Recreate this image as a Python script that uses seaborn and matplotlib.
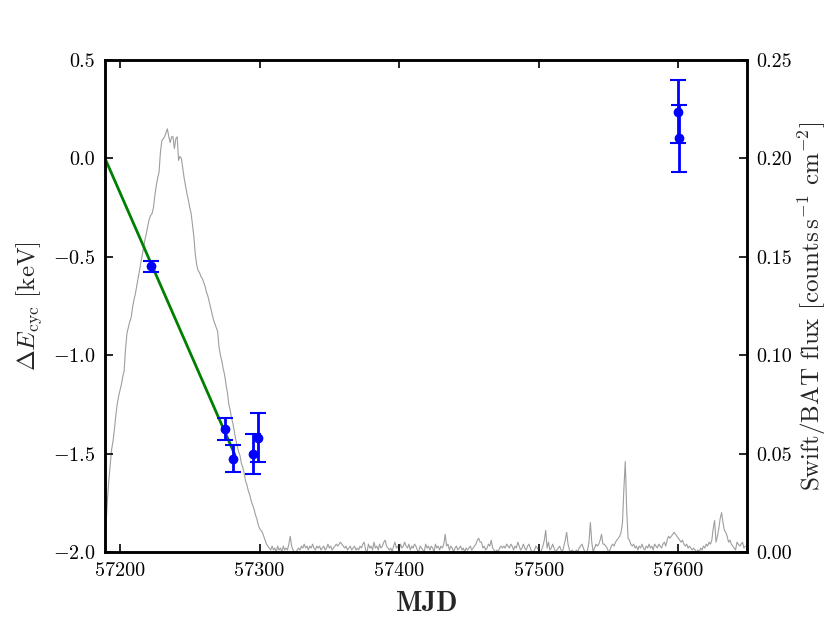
import matplotlib
matplotlib.use("Agg")
import matplotlib.pyplot as plt
import seaborn as sns
import numpy as np

# cyclotron line energy shifts (keV) vs MJD
mjd_cyc = [57222.6, 57275.4, 57281.3, 57295.4, 57299.2, 57599.9, 57600.6]
dE_cyc = [-0.547, -1.375, -1.526, -1.502, -1.419, 0.237, 0.102]
dE_err = [0.028, 0.055, 0.070, 0.104, 0.125, 0.159, 0.171]

# linear decay fit
fit_mjd = [57189.3, 57282.4]
fit_dE = [0.0, -1.507]

# Swift/BAT daily light curve, in 1e-3 counts s^-1 cm^-2, starting MJD 57189
bat_start = 57189
bat_flux = [
    1, 14, 26, 36, 44, 52, 56, 62, 69, 75, 79, 82, 85, 89, 92, 103, 111, 114, 117, 119,
    124, 128, 131, 135, 139, 143, 147, 151, 155, 159, 162, 166, 169, 171, 172, 175, 181, 186, 190, 193,
    203, 209, 210, 211, 213, 215, 211, 208, 211, 211, 205, 210, 211, 199, 201, 200, 195, 190, 186, 182,
    179, 175, 172, 166, 160, 151, 146, 143, 142, 140, 139, 137, 135, 132, 130, 127, 124, 121, 118, 116,
    114, 112, 104, 100, 97, 93, 90, 85, 81, 75, 72, 68, 65, 61, 57, 54, 51, 49, 45, 43,
    40, 36, 34, 31, 29, 26, 24, 22, 19, 17, 14, 12, 11, 10, 8, 6, 4, 3,
    2, 1, 3, 1, 2, 0, 3, 1, 2, 0, 3, 1, 2, 1, 4, 8, 3, 1, 0, 0, 1, 2, 1,
    3, 2, 4, 2, 3, 1, 3, 2, 4, 2, 1, 3, 2, 3, 1, 2, 3, 1, 2, 4, 2, 3, 1, 2, 3, 4, 3, 4, 5, 4, 3, 2, 3, 1, 2,
    3, 1, 2, 3, 1, 2, 1, 3, 2, 4, 5, 1, 0, 4, 2, 3, 1, 5, 2, 3, 1, 4, 2, 3, 5, 6, 3, 2, 1, 2, 0, 3, 5, 2, 3, 1, 4, 2, 3, 5,
    3, 2, 4, 1, 3, 2, 4, 3, 1, 0, 3, 2, 1, 0, 4, 2, 3, 1, 3, 2, 0, 4, 2, 3, 1, 3, 2, 4, 9, 3, 4, 1, 3, 2, 0, 2, 3, 1, 2, 3, 1, 2, 0, 2, 1,
    2, 3, 1, 2, 3, 4, 6, 7, 5, 5, 2, 3, 1, 2, 4, 3, 6, 2, 1, 0, 1, 0, 2, 3, 2, 3, 2, 4, 3, 2, 4, 3, 1, 3, 2, 5, 3, 1, 2, 4, 2, 1, 3, 4, 2, 0, 0, 1, 3, 2,
    1, 0, 1, 3, 6, 11, 2, 5, 1, 2, 4, 2, 0, 1, 2, 3, 1, 0, 3, 6, 10, 4, 1, 0, 1, 0, 0, 1, 0, 2, 3, 4, 2, 0, 0, 1, 5, 15, 5, 0, 2, 4, 3, 4, 6, 9, 4, 4, 3, 2,
    0, 1, 3, 4, 3, 5, 6, 7, 8, 10, 15, 32, 46, 22, 7, 6, 4, 3, 4, 2, 3, 1, 3, 2, 4, 2, 1, 3, 2, 4, 2, 3, 1, 4, 3, 2, 4, 3, 2, 4,
    5, 3, 6, 8, 7, 8, 9, 10, 9, 8, 7, 6, 5, 6, 4, 3, 4, 2, 3, 2, 1, 2, 1, 0, 1, 0, 2, 1, 3, 2, 4, 3, 5, 4, 6, 12, 16, 5, 8, 12,
    17, 20, 15, 11, 10, 8, 5, 6, 4, 3, 2, 1, 5, 4, 3, 4, 5, 2, 3,
]

sns.set_style("ticks")
plt.rcParams['font.family'] = ['serif']
plt.rcParams['font.serif'] = ['cmr10', 'DejaVu Serif']
plt.rcParams['mathtext.fontset'] = 'cm'
plt.rcParams['axes.formatter.use_mathtext'] = True
plt.rcParams['xtick.direction'] = 'in'
plt.rcParams['ytick.direction'] = 'in'
plt.rcParams['xtick.top'] = True
plt.rcParams['xtick.major.size'] = 6
plt.rcParams['ytick.major.size'] = 6
plt.rcParams['xtick.major.width'] = 1.2
plt.rcParams['ytick.major.width'] = 1.2
plt.rcParams['axes.linewidth'] = 1.8
plt.rcParams['axes.edgecolor'] = 'black'
plt.rcParams['xtick.color'] = 'black'
plt.rcParams['ytick.color'] = 'black'

fig = plt.figure(figsize=(8.3, 6.17), dpi=100)
ax = fig.add_axes([105/830, 65/617, 642/830, 492/617])
ax2 = ax.twinx()

bat_mjd = bat_start + np.arange(len(bat_flux))
sns.lineplot(x=bat_mjd, y=np.array(bat_flux) * 1e-3, ax=ax2, color='0.62', linewidth=0.8)

sns.lineplot(x=fit_mjd, y=fit_dE, ax=ax, color='green', linewidth=2)
ax.errorbar(mjd_cyc, dE_cyc, yerr=dE_err, fmt='o', color='blue', markersize=6,
            elinewidth=2, capsize=6, capthick=1.5, zorder=5)

ax.set_zorder(ax2.get_zorder() + 1)
ax.patch.set_visible(False)

ax.set_xlim(57189.3, 57649.2)
ax.set_ylim(-2.0, 0.5)
ax2.set_ylim(0.0, 0.25)
ax.set_xticks([57200, 57300, 57400, 57500, 57600])
ax.set_yticks([-2.0, -1.5, -1.0, -0.5, 0.0, 0.5])
ax2.set_yticks([0.0, 0.05, 0.10, 0.15, 0.20, 0.25])
ax.xaxis.set_major_formatter(matplotlib.ticker.FuncFormatter(lambda v, p: '%d' % v))
ax.yaxis.set_major_formatter(matplotlib.ticker.FuncFormatter(lambda v, p: '$%.1f$' % v if v < 0 else '%.1f' % v))
ax2.yaxis.set_major_formatter(matplotlib.ticker.FuncFormatter(lambda v, p: '%.2f' % v))
ax.tick_params(labelsize=14.5, pad=7)
ax2.tick_params(labelsize=14.5, pad=7)

ax.set_xlabel(r'$\mathbf{MJD}$', fontsize=20, labelpad=8)
ax.set_ylabel(r'$\Delta E_{\rm cyc}$ [keV]', fontsize=18, labelpad=6)
ax2.set_ylabel(r'Swift/BAT flux [counts$\,$s$^{-1}$ cm$^{-2}$]', fontsize=18, labelpad=3)

fig.savefig('out.png', dpi=100)
